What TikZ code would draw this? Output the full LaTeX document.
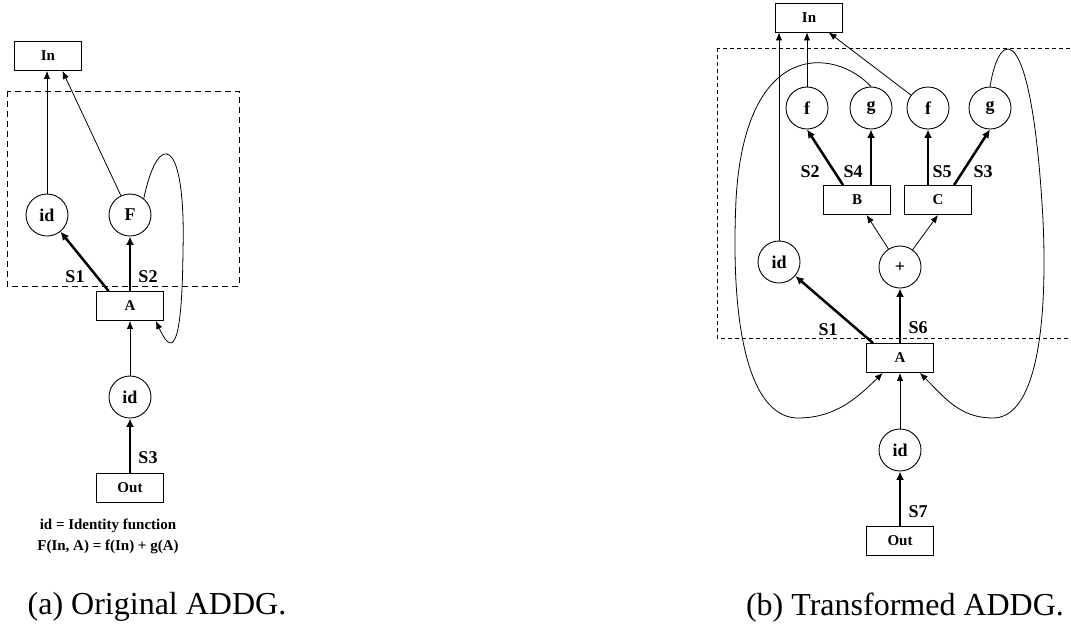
\documentclass[tikz,border=0pt]{standalone}
\usepackage{fontspec}
\setmainfont{Liberation Serif}
\usetikzlibrary{arrows.meta}

\begin{document}
\begin{tikzpicture}[x=1pt,y=-1pt,
    opbox/.style={draw,line width=0.9pt,minimum width=67pt,minimum height=29pt,inner sep=0pt,
      font=\fontsize{15}{18}\selectfont\bfseries},
    opnode/.style={draw,circle,line width=0.9pt,minimum size=42pt,inner sep=0pt,
      font=\fontsize{18}{21}\selectfont\bfseries},
    flow/.style={-{Latex[length=8pt,width=6.5pt]},line width=0.8pt},
    strong/.style={-{Latex[length=8.5pt,width=8pt]},line width=2.5pt},
    slabel/.style={font=\fontsize{18}{21}\selectfont\bfseries},
    note/.style={font=\fontsize{15}{18}\selectfont\bfseries},
    caption/.style={font=\fontsize{32}{38}\selectfont}]
  \useasboundingbox (0,0) rectangle (1071,630);
  % (a) original
  \draw[line width=0.8pt,dash pattern=on 6pt off 4pt] (7,91) rectangle (239,286);
  \node[opbox] (inL) at (48,56) {In};
  \node[opnode] (idL) at (47,215) {id};
  \node[opnode] (fnF) at (130,215) {F};
  \node[opbox] (aL) at (130,306) {A};
  \node[opnode] (idLb) at (130,397) {id};
  \node[opbox] (outL) at (130,488) {Out};
  \draw[flow] (idL) -- (idL |- inL.south);
  \draw[flow] (fnF) -- (inL.-46);
  \draw[strong] (aL.145) -- (idL);
  \draw[strong] (aL) -- (fnF);
  \draw[flow] (idLb) -- (aL);
  \draw[strong] (outL) -- (idLb);
  \draw[flow] (fnF.50) .. controls (158,130) and (186,135) .. (183,250)
    .. controls (182,360) and (170,352) .. (aL.330);
  \node[slabel] (sOneL) at (75,277) {S1};
  \node[slabel] (sTwoL) at (148,277) {S2};
  \node[slabel] (sThreeL) at (148,458) {S3};
  \node[note] (noteId) at (108,526) {id = Identity function};
  \node[note] (noteF) at (108,547) {F(In, A) = f(In) + g(A)};
  \node[caption] (capA) at (157,607) {(a) Original ADDG.};
  % (b) transformed
  \draw[line width=0.8pt,dash pattern=on 4pt off 3pt] (717,48) rectangle (1090,338);
  \node[opbox] (inR) at (809,17.5) {In};
  \node[opnode] (fOne) at (807,108) {f};
  \node[opnode] (gOne) at (871,108) {g};
  \node[opnode] (fTwo) at (928,108) {f};
  \node[opnode] (gTwo) at (990,108) {g};
  \node[opbox] (bR) at (857,200) {B};
  \node[opbox] (cR) at (938,200) {C};
  \node[opnode] (idR) at (779,262) {id};
  \node[opnode] (plus) at (900,267) {+};
  \node[opbox] (aR) at (900,358) {A};
  \node[opnode] (idRb) at (900,450) {id};
  \node[opbox] (outR) at (900,541) {Out};
  \draw[flow] (idR) -- (idR |- inR.south);
  \draw[flow] (fOne) -- (fOne |- inR.south);
  \draw[flow] (fTwo) -- (inR);
  \draw[strong] (bR.133) -- (fOne.south);
  \draw[strong] (gOne |- bR.north) -- (gOne);
  \draw[strong] (fTwo |- cR.north) -- (fTwo);
  \draw[strong] (cR.43) -- (gTwo.south);
  \draw[flow] (plus) -- (bR);
  \draw[flow] (plus) -- (cR.south);
  \draw[strong] (aR.151) -- (idR);
  \draw[strong] (aR) -- (plus);
  \draw[flow] (idRb) -- (aR);
  \draw[strong] (outR) -- (idRb);
  \draw[flow] (gOne.north) .. controls (835,48) and (745,38) .. (736,200)
    .. controls (730,330) and (750,420) .. (800,418)
    .. controls (835,417) and (855,400) .. (aR.221);
  \draw[flow] (gTwo.north) .. controls (1000,25) and (1032,20) .. (1043,220)
    .. controls (1048,330) and (1035,418) .. (993,418)
    .. controls (960,418) and (945,398) .. (aR.323);
  \node[slabel] (sTwoR) at (810,172) {S2};
  \node[slabel] (sFourR) at (853,172) {S4};
  \node[slabel] (sFiveR) at (942,172) {S5};
  \node[slabel] (sThreeR) at (983,172) {S3};
  \node[slabel] (sOneR) at (828,330) {S1};
  \node[slabel] (sSixR) at (918,328) {S6};
  \node[slabel] (sSevenR) at (918,512) {S7};
  \node[caption] (capB) at (905,608) {(b) Transformed ADDG.};
\end{tikzpicture}
\end{document}
